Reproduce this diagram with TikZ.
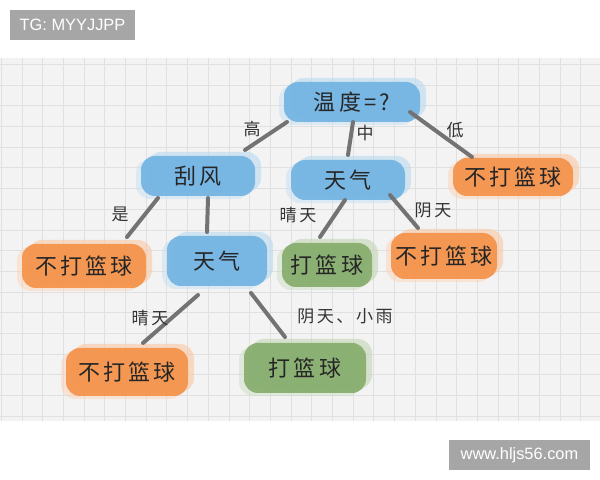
\documentclass[tikz,border=0pt]{standalone}
\usepackage{fontspec}
\setmainfont{Noto Sans CJK SC}[LetterSpace=15]
\newfontfamily\wmfont{Liberation Sans}

\definecolor{skyblue}{HTML}{72B4E2}
\definecolor{tangerine}{HTML}{F4924A}
\definecolor{moss}{HTML}{86AD6C}
\definecolor{paper}{HTML}{F3F3F3}
\definecolor{gridgray}{HTML}{E0E0E0}
\definecolor{markgray}{HTML}{A6A6A6}

\tikzset{
  blob/.style={draw=none, fill=#1, fill opacity=.92, text opacity=1, rounded corners=7pt,
    inner sep=0pt, text=black!85,
    preaction={fill=#1!50!white, fill opacity=.6, transform canvas={xshift=3pt,yshift=2pt}},
    preaction={fill=#1!40!white, fill opacity=.5, transform canvas={xshift=-2.5pt,yshift=-1.5pt}}},
  big/.style={font=\fontsize{11}{12}\selectfont},
  lbl/.style={font=\fontsize{8.5}{10}\selectfont, text=black!80},
  branch/.style={line width=2pt, draw=black!55, line cap=round},
  wmark/.style={fill=markgray, text=white, font=\wmfont\fontsize{8.2}{10}\selectfont}
}

\begin{document}
\begin{tikzpicture}[x=0.5pt,y=-0.5pt]
\useasboundingbox (0,0) rectangle (600,480);
\fill[white] (0,0) rectangle (600,480);
% squared paper
\fill[paper] (0,58) rectangle (600,421);
\foreach \x in {1.3,22,...,600} \draw[gridgray, line width=.5pt] (\x,58) -- (\x,421);
\foreach \y in {64.5,85.2,...,421} \draw[gridgray, line width=.5pt] (0,\y) -- (600,\y);

% watermarks
\node[wmark, minimum width=62.5pt, minimum height=15pt] (tg) at (72.5,25) {TG: MYYJJPP};
\node[wmark, minimum width=70.5pt, minimum height=15pt] (site) at (519.5,455) {www.hljs56.com};

% tree
\node[blob=skyblue, big, minimum width=68pt, minimum height=20pt] (root) at (352,102) {温度=?};
\node[blob=skyblue, big, minimum width=57pt, minimum height=20pt] (wind) at (198,176) {刮风};
\node[blob=skyblue, big, minimum width=57pt, minimum height=20pt] (wthA) at (348,180) {天气};
\node[blob=tangerine, big, minimum width=60pt, minimum height=19pt] (noR) at (513,177) {不打篮球};
\node[blob=tangerine, big, minimum width=62pt, minimum height=22pt] (noL) at (84,266) {不打篮球};
\node[blob=skyblue, big, minimum width=50pt, minimum height=25pt] (wthB) at (217,261) {天气};
\node[blob=moss, big, minimum width=45pt, minimum height=22pt] (yesA) at (327,265) {打篮球};
\node[blob=tangerine, big, minimum width=53pt, minimum height=23pt] (noM) at (444,256) {不打篮球};
\node[blob=tangerine, big, minimum width=61pt, minimum height=24pt] (noB) at (127,372) {不打篮球};
\node[blob=moss, big, minimum width=61pt, minimum height=25pt] (yesB) at (305,368) {打篮球};

% branches
\draw[branch] ([shift={(-65,20)}]root.center) -- ([shift={(47,-26)}]wind.center);
\draw[branch] ([shift={(1,20)}]root.center) -- ([shift={(0,-25)}]wthA.center);
\draw[branch] ([shift={(58,10)}]root.center) -- ([shift={(-41,-20)}]noR.center);
\draw[branch] ([shift={(-40,22)}]wind.center) -- ([shift={(43,-29)}]noL.center);
\draw[branch] ([shift={(10,22)}]wind.center) -- ([shift={(-10,-29)}]wthB.center);
\draw[branch] ([shift={(-3,20)}]wthA.center) -- ([shift={(-7,-28)}]yesA.center);
\draw[branch] ([shift={(42,15)}]wthA.center) -- ([shift={(-26,-28)}]noM.center);
\draw[branch] ([shift={(-19,34)}]wthB.center) -- ([shift={(16,-29)}]noB.center);
\draw[branch] ([shift={(34,32)}]wthB.center) -- ([shift={(-20,-31)}]yesB.center);

% branch labels
\node[lbl] (lHigh) at (252,129) {高};
\node[lbl] (lMid) at (365,133) {中};
\node[lbl] (lLow) at (455,130) {低};
\node[lbl] (lYes) at (120,214) {是};
\node[lbl] (lSunA) at (298,215) {晴天};
\node[lbl] (lCloudA) at (433,210) {阴天};
\node[lbl] (lSunB) at (150,318) {晴天};
\node[lbl] (lRain) at (345,316) {阴天、小雨};
\end{tikzpicture}
\end{document}
